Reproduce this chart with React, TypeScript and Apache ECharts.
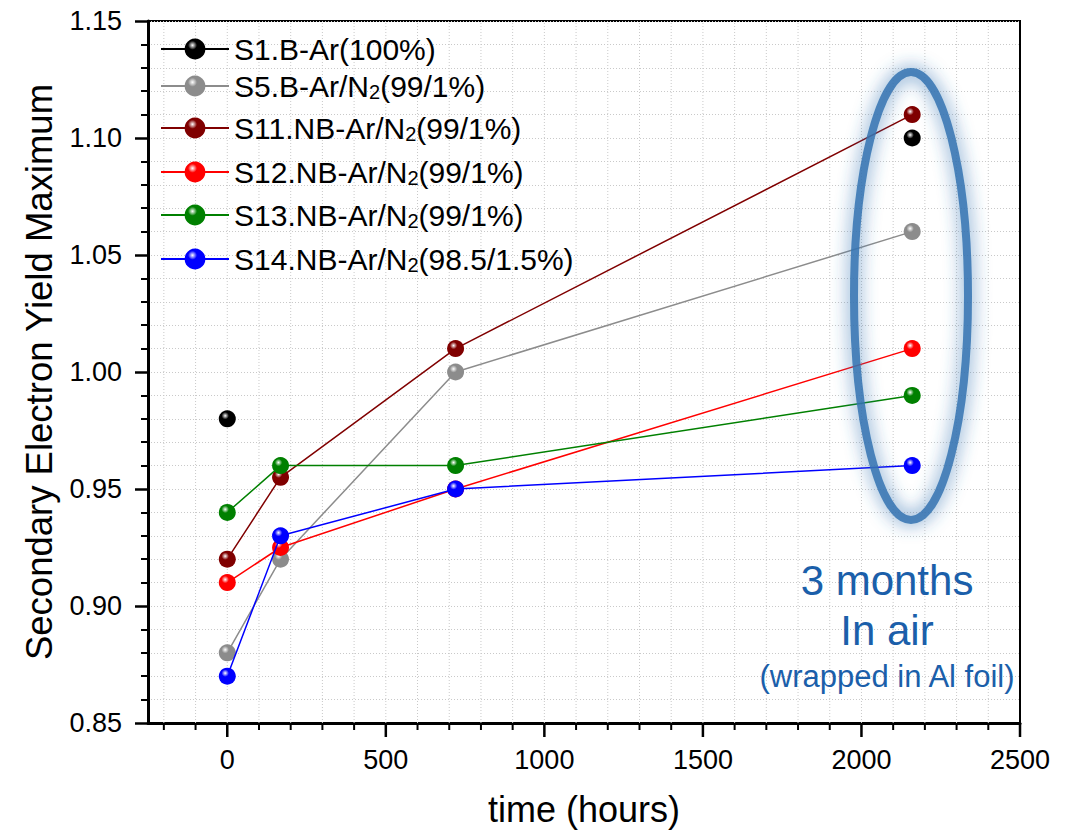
import { useEffect, useRef } from 'react';
import * as echarts from 'echarts';

// ---- data ----
const timeHours = [0, 168, 720, 2160];
const seriesNames = [
  'S1.B-Ar(100%)',
  'S5.B-Ar/N2(99/1%)',
  'S11.NB-Ar/N2(99/1%)',
  'S12.NB-Ar/N2(99/1%)',
  'S13.NB-Ar/N2(99/1%)',
  'S14.NB-Ar/N2(98.5/1.5%)',
];
const s1Values = [0.98, null, null, 1.1];
const s5Values = [0.88, 0.92, 1.0, 1.06];
const s11Values = [0.92, 0.955, 1.01, 1.11];
const s12Values = [0.91, 0.925, 0.95, 1.01];
const s13Values = [0.94, 0.96, 0.96, 0.99];
const s14Values = [0.87, 0.93, 0.95, 0.96];
const seriesValues = [s1Values, s5Values, s11Values, s12Values, s13Values, s14Values];
const seriesColors = ['#000000', '#8c8c8c', '#800000', '#ff0000', '#008000', '#0000ff'];

const xMajorTicks = [0, 500, 1000, 1500, 2000, 2500];
const xMinorTicks = [-200, -100, 100, 200, 300, 400, 600, 700, 800, 900, 1100, 1200, 1300, 1400, 1600, 1700, 1800, 1900, 2100, 2200, 2300, 2400];
const xGridLines = [-200, -100, 0, 100, 200, 300, 400, 500, 600, 700, 800, 900, 1000, 1100, 1200, 1300, 1400, 1500, 1600, 1700, 1800, 1900, 2000, 2100, 2200, 2300, 2400];
const noteLines = ['3 months', 'In air', '(wrapped in Al foil)'];

// ---- layout / style ----
const FONT = "'Liberation Sans', Arial, sans-serif";
const X_MIN = -250;
const X_MAX = 2500;
const Y_MIN = 0.85;
const Y_MAX = 1.15;
const legendCenters = [49, 86, 128, 172, 215, 259];
const GRID_COLOR = '#c9c9c9';
const NOTE_COLOR = '#1b5faa';

function sphere(base: string) {
  return {
    type: 'radial',
    x: 0.38,
    y: 0.32,
    r: 0.72,
    colorStops: [
      { offset: 0, color: '#ffffff' },
      { offset: 0.3, color: base },
      { offset: 1, color: base },
    ],
  };
}

export default function App() {
  const ref = useRef<HTMLDivElement>(null);
  useEffect(() => {
    if (!ref.current) return;
    const chart = echarts.init(ref.current, undefined, { renderer: 'svg' });

    const lineSeries = seriesNames.map((name, i) => ({
      name,
      type: 'line',
      data: timeHours.map((t, j) => [t, seriesValues[i][j] == null ? '-' : seriesValues[i][j]]),
      symbol: 'circle',
      symbolSize: 17,
      connectNulls: false,
      itemStyle: { color: sphere(seriesColors[i]) },
      lineStyle: { color: seriesColors[i], width: 1.5 },
      z: 5 + i,
      silent: true,
    }));

    const gridSeries = {
      type: 'custom',
      data: xGridLines.map((v) => [v, Y_MIN]),
      clip: false,
      silent: true,
      z: 1,
      renderItem: (params: any, api: any) => {
        const v = api.value(0);
        const p1 = api.coord([v, Y_MIN]);
        const p2 = api.coord([v, Y_MAX]);
        return {
          type: 'line',
          shape: { x1: p1[0], y1: p1[1], x2: p2[0], y2: p2[1] },
          style: { stroke: GRID_COLOR, lineWidth: 1, lineDash: [1, 2] },
        };
      },
    };

    const makeTickSeries = (vals: number[], len: number, width: number) => ({
      type: 'custom',
      data: vals.map((v) => [v, Y_MIN]),
      clip: false,
      silent: true,
      z: 20,
      renderItem: (params: any, api: any) => {
        const p = api.coord([api.value(0), Y_MIN]);
        return {
          type: 'line',
          shape: { x1: p[0], y1: p[1], x2: p[0], y2: p[1] + len },
          style: { stroke: '#000', lineWidth: width },
        };
      },
    });

    const legends = seriesNames.map((name, i) => ({
      data: [name],
      left: 160,
      top: legendCenters[i] - 16,
      padding: 0,
      orient: 'vertical',
      itemWidth: 68,
      itemHeight: 26,
      itemGap: 0,
      selectedMode: false,
      formatter: (n: string) => n.replace('N2(', 'N{sub|2}('),
      textStyle: {
        fontFamily: FONT,
        fontSize: 30,
        lineHeight: 32,
        color: '#000',
        rich: {
          sub: { fontFamily: FONT, fontSize: 20, lineHeight: 4, verticalAlign: 'bottom', color: '#000' },
        },
      },
    }));

    const noteY = [580, 630, 676];
    const noteSize = [42, 42, 31];

    chart.setOption({
      animation: false,
      backgroundColor: '#ffffff',
      grid: {
        left: 148,
        right: 53,
        top: 21,
        bottom: 110,
        show: true,
        borderColor: '#000',
        borderWidth: 2,
        containLabel: false,
        outerBoundsMode: 'none',
      },
      legend: legends,
      xAxis: {
        type: 'value',
        min: X_MIN,
        max: X_MAX,
        interval: 250,
        name: 'time (hours)',
        nameLocation: 'middle',
        nameGap: 68,
        nameTextStyle: { fontFamily: FONT, fontSize: 36, color: '#000' },
        axisLine: { show: true, onZero: false, lineStyle: { color: '#000', width: 3 } },
        axisTick: { show: false },
        splitLine: { show: false },
        axisLabel: {
          fontFamily: FONT,
          fontSize: 27,
          color: '#000',
          margin: 23,
          formatter: (v: number) => (v >= 0 && Math.abs(v % 500) < 1e-6 ? String(Math.round(v)) : ''),
        },
      },
      yAxis: {
        type: 'value',
        min: Y_MIN,
        max: Y_MAX,
        interval: 0.05,
        name: 'Secondary Electron Yield Maximum',
        nameLocation: 'middle',
        nameGap: 90,
        nameTextStyle: { fontFamily: FONT, fontSize: 36.5, color: '#000' },
        axisLine: { show: true, onZero: false, lineStyle: { color: '#000', width: 3 } },
        axisTick: { show: true, inside: false, length: 13, lineStyle: { color: '#000', width: 2.5 } },
        minorTick: { show: true, splitNumber: 5, length: 7, lineStyle: { color: '#000', width: 2 } },
        axisLabel: {
          fontFamily: FONT,
          fontSize: 27,
          color: '#000',
          margin: 26,
          formatter: (v: number) => v.toFixed(2),
        },
        splitLine: { show: true, lineStyle: { color: GRID_COLOR, width: 1, type: [1, 2] } },
        minorSplitLine: { show: true, lineStyle: { color: GRID_COLOR, width: 1, type: [1, 2] } },
      },
      series: [
        gridSeries,
        makeTickSeries(xMajorTicks, 14, 2.5),
        makeTickSeries(xMinorTicks, 7, 2),
        ...lineSeries,
      ],
      graphic: [
        {
          type: 'ellipse',
          shape: { cx: 911, cy: 296, rx: 57, ry: 224 },
          style: { fill: 'none', stroke: 'rgba(52,115,178,0.85)', lineWidth: 8, shadowBlur: 18, shadowColor: 'rgba(52,115,178,1)' },
          z: 30,
          silent: true,
        },
        ...noteLines.map((t, i) => ({
          type: 'text',
          x: 887,
          y: noteY[i],
          z: 30,
          silent: true,
          style: {
            text: t,
            fontFamily: FONT,
            fontSize: noteSize[i],
            fill: NOTE_COLOR,
            align: 'center',
            verticalAlign: 'middle',
          },
        })),
      ],
    });

    return () => chart.dispose();
  }, []);

  return (
    <div
      ref={ref}
      style={{ position: 'fixed', left: 0, top: 0, width: 1073, height: 833, background: '#fff' }}
    />
  );
}
